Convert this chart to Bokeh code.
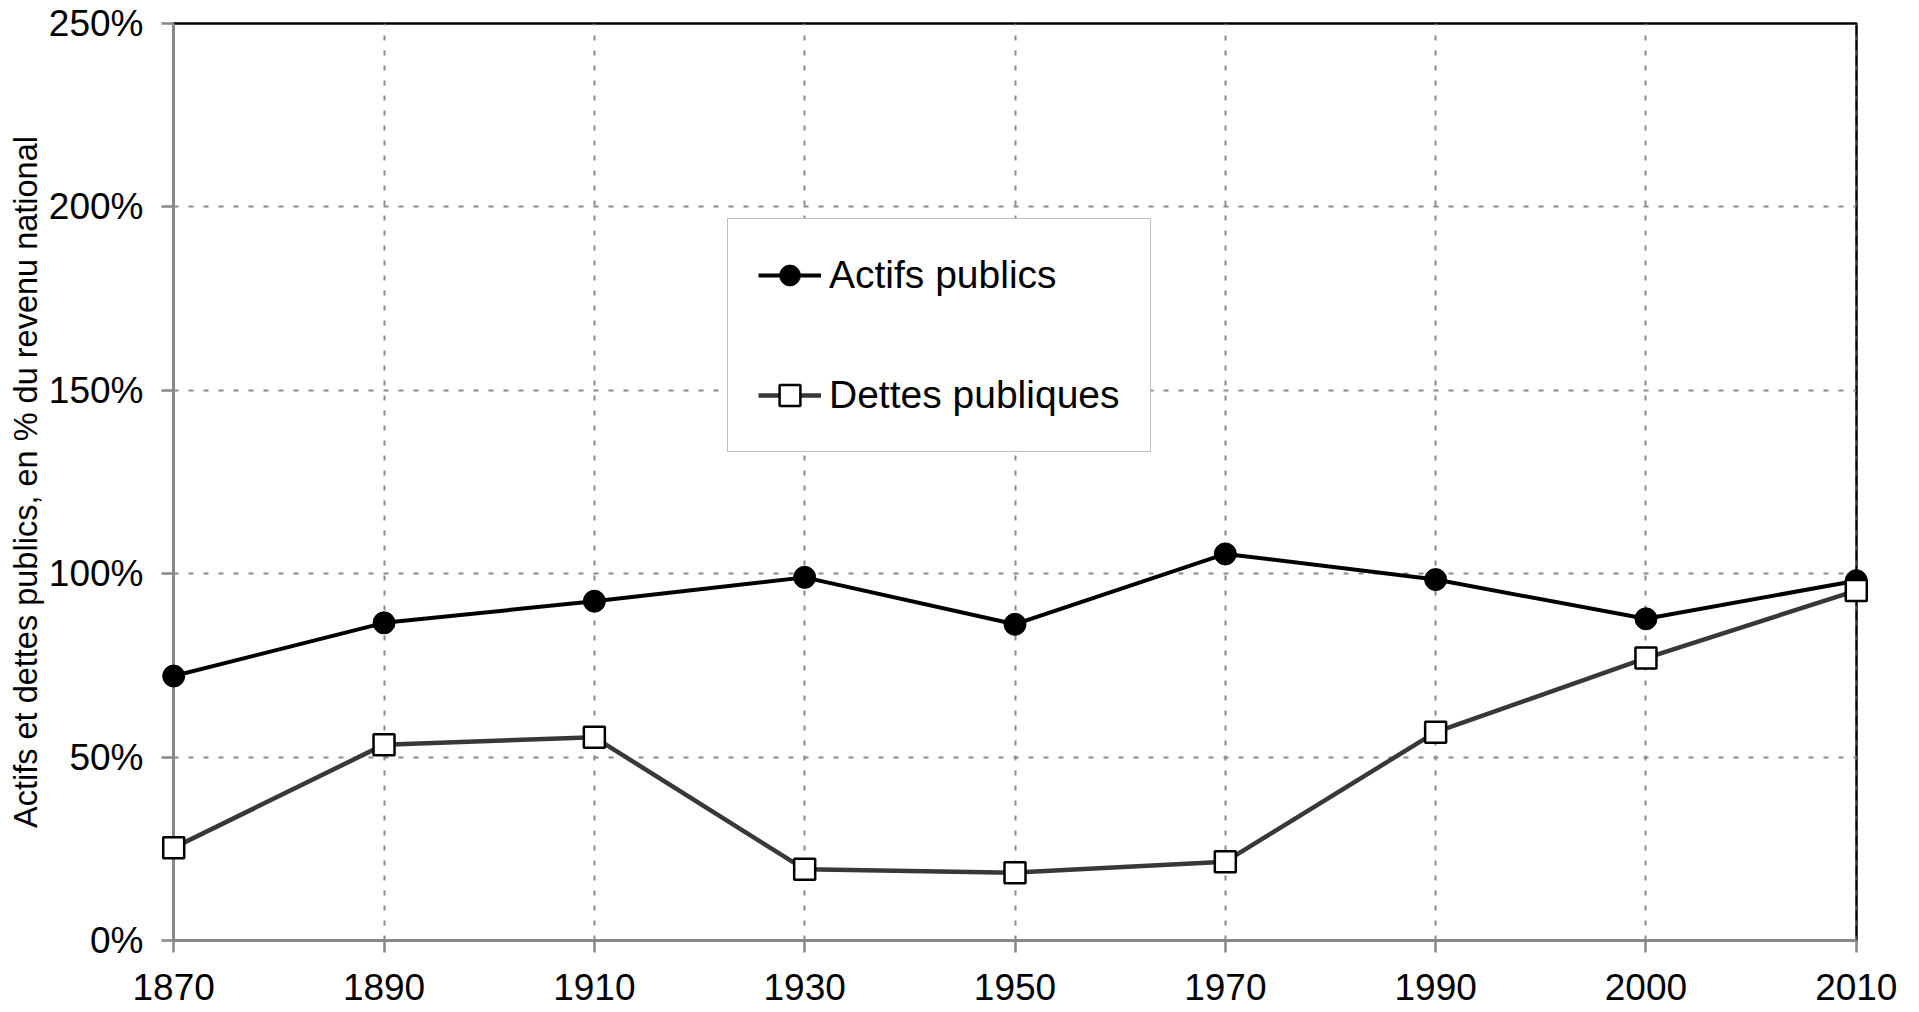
from bokeh.plotting import figure
from bokeh.models import (FactorRange, Range1d, FixedTicker, PrintfTickFormatter,
                          Legend, LegendItem, ColumnDataSource)
from bokeh.embed import file_html
from bokeh.resources import INLINE

years = ["1870", "1890", "1910", "1930", "1950", "1970", "1990", "2000", "2010"]
actifs_publics = [72.1, 86.6, 92.5, 99.0, 86.2, 105.4, 98.4, 87.7, 98.1]
dettes_publiques = [25.3, 53.4, 55.4, 19.4, 18.5, 21.5, 56.8, 77.0, 95.4]
y_ticks = [0, 50, 100, 150, 200, 250]

FONT = "Liberation Sans"

src = ColumnDataSource(dict(x=years, a=actifs_publics, d=dettes_publiques))

p = figure(
    width=1915, height=1010,
    x_range=FactorRange(factors=years, range_padding=-0.499, range_padding_units="absolute"),
    y_range=Range1d(0, 250),
    output_backend="svg", toolbar_location=None,
    min_border_left=173, min_border_right=59, min_border_top=23, min_border_bottom=70,
)
p.background_fill_color = "white"
p.border_fill_color = "white"
p.outline_line_color = "black"
p.outline_line_width = 2.5

# grids
for g in (p.xgrid, p.ygrid):
    g.grid_line_color = "#8a8a8a"
    g.grid_line_width = 2
    g.grid_line_dash = "5 10"

# axes
p.yaxis.ticker = FixedTicker(ticks=y_ticks)
p.yaxis.formatter = PrintfTickFormatter(format="%d%%")
for ax in (p.xaxis, p.yaxis):
    ax.axis_line_color = "#888888"
    ax.axis_line_width = 3
    ax.major_tick_line_color = "#888888"
    ax.major_tick_line_width = 2.5
    ax.major_tick_out = 12
    ax.major_tick_in = 0
    ax.minor_tick_line_color = None
    ax.major_label_text_font = FONT
    ax.major_label_text_font_size = "37px"
    ax.major_label_text_color = "black"
p.xaxis.major_label_standoff = 21
p.yaxis.major_label_standoff = 18
p.yaxis.axis_label = "Actifs et dettes publics, en % du revenu national"
p.yaxis.axis_label_text_font = FONT
p.yaxis.axis_label_text_font_size = "32.5px"
p.yaxis.axis_label_text_font_style = "normal"
p.yaxis.axis_label_text_color = "black"
p.yaxis.axis_label_standoff = 2

# series
la = p.line("x", "a", source=src, line_color="black", line_width=4)
sa = p.scatter("x", "a", source=src, marker="circle", size=22,
               fill_color="black", line_color="black", line_width=1, level="overlay")
ld = p.line("x", "d", source=src, line_color="#383838", line_width=4.5)
sd = p.scatter("x", "d", source=src, marker="square", size=21,
               fill_color="white", line_color="black", line_width=2.5, level="overlay")

legend = Legend(
    items=[LegendItem(label="Actifs publics", renderers=[la, sa]),
           LegendItem(label="Dettes publiques", renderers=[ld, sd])],
    location=(554, 488),
    label_text_font=FONT, label_text_font_size="39px", label_text_color="black",
    glyph_width=63, glyph_height=52, label_standoff=8,
    padding=30, spacing=68, margin=0,
    border_line_color="#808080", border_line_width=1,
    background_fill_color="white", background_fill_alpha=1.0,
)
p.add_layout(legend)

open("out.html", "w").write(file_html(p, INLINE))
